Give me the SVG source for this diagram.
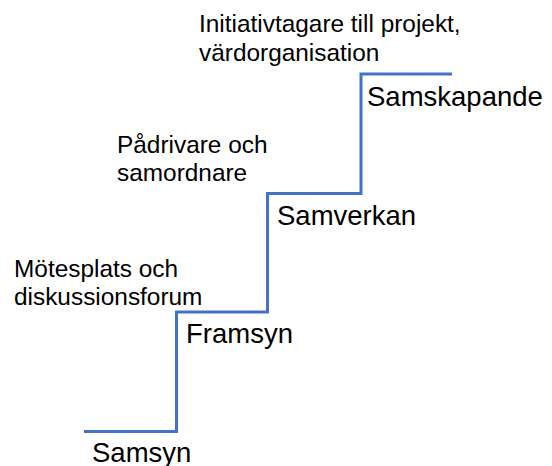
<svg xmlns="http://www.w3.org/2000/svg" width="552" height="466" viewBox="0 0 552 466">
<style>
.step{fill:none;stroke:#4472C4;stroke-width:3;}
.big{font-family:"Liberation Sans",Arial,sans-serif;font-size:27.5px;fill:#000;}
.small{font-family:"Liberation Sans",Arial,sans-serif;font-size:24.4px;fill:#000;}
</style>
<rect width="552" height="466" fill="#fff"/>
<g id="connectors">
<path class="step" d="M84,431.5 H176.5 V312 H267.5 V193.5 H361 V74 H452"/>
</g>
<g id="samsyn"><text class="big" x="92" y="461.5">Samsyn</text></g>
<g id="framsyn"><text class="big" x="186" y="343">Framsyn</text></g>
<g id="samverkan"><text class="big" x="277" y="225">Samverkan</text></g>
<g id="samskapande"><text class="big" x="367" y="106">Samskapande</text></g>
<g id="motesplats"><text class="small" x="14" y="277">Mötesplats och</text><text class="small" x="14" y="305">diskussionsforum</text></g>
<g id="padrivare"><text class="small" x="117" y="153">Pådrivare och</text><text class="small" x="117" y="181">samordnare</text></g>
<g id="initiativ"><text class="small" x="199" y="32">Initiativtagare till projekt,</text><text class="small" x="199" y="61">värdorganisation</text></g>
</svg>
